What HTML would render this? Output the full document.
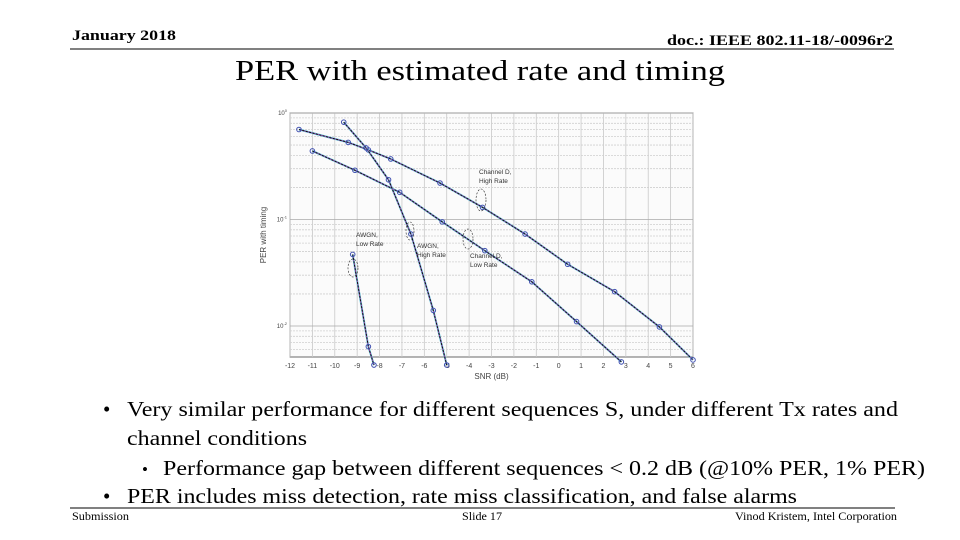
<!DOCTYPE html>
<html><head><meta charset="utf-8"><style>
html,body{margin:0;padding:0;background:#fff;}
svg{display:block;font-family:"Liberation Serif",serif;}
</style></head><body>
<svg id="slide" width="960" height="540" viewBox="0 0 960 540" xmlns="http://www.w3.org/2000/svg">
<text x="72" y="40" font-size="15" font-weight="bold" textLength="104" lengthAdjust="spacingAndGlyphs">January 2018</text>
<text x="667" y="45" font-size="15" font-weight="bold" textLength="226" lengthAdjust="spacingAndGlyphs">doc.: IEEE 802.11-18/-0096r2</text>
<line x1="70" y1="49" x2="894" y2="49" stroke="#000" stroke-width="1"/>
<text x="235" y="80" font-size="28" textLength="490" lengthAdjust="spacingAndGlyphs">PER with estimated rate and timing</text>
<g id="chart"></g>
<text x="103" y="416" font-size="21">•</text>
<text x="127" y="416" font-size="21" textLength="771" lengthAdjust="spacingAndGlyphs">Very similar performance for different sequences S, under different Tx rates and</text>
<text x="127" y="445" font-size="21" textLength="180" lengthAdjust="spacingAndGlyphs">channel conditions</text>
<text x="142" y="475" font-size="17">•</text>
<text x="163" y="475" font-size="21" textLength="762" lengthAdjust="spacingAndGlyphs">Performance gap between different sequences &lt; 0.2 dB (@10% PER, 1% PER)</text>
<text x="103" y="503" font-size="21">•</text>
<text x="127" y="503" font-size="21" textLength="670" lengthAdjust="spacingAndGlyphs">PER includes miss detection, rate miss classification, and false alarms</text>
<line x1="70" y1="508" x2="895" y2="508" stroke="#000" stroke-width="1"/>
<text x="72" y="520" font-size="12" textLength="57" lengthAdjust="spacingAndGlyphs">Submission</text>
<text x="462" y="520" font-size="12" textLength="40" lengthAdjust="spacingAndGlyphs">Slide 17</text>
<text x="735" y="520" font-size="12" textLength="162" lengthAdjust="spacingAndGlyphs">Vinod Kristem, Intel Corporation</text>
</svg>
<script>
const xTicks=[-12,-11,-10,-9,-8,-7,-6,-5,-4,-3,-2,-1,0,1,2,3,4,5,6];
const yDecades=[0,-1,-2];
const chDHighX=[-11.6,-9.4,-8.5,-7.5,-5.3,-3.4,-1.5,0.4,2.5,4.5,6];
const chDHighY=[0.70,0.53,0.45,0.37,0.22,0.13,0.073,0.038,0.021,0.0098,0.0048];
const chDLowX=[-11,-9.1,-7.1,-5.2,-3.3,-1.2,0.8,2.8];
const chDLowY=[0.44,0.29,0.18,0.095,0.051,0.026,0.011,0.0046];
const awgnHighX=[-9.6,-8.6,-7.6,-6.6,-5.6,-5];
const awgnHighY=[0.82,0.47,0.236,0.073,0.014,0.0043];
const awgnLowX=[-9.2,-8.5,-8.25];
const awgnLowY=[0.047,0.0064,0.0043];
const NS='http://www.w3.org/2000/svg';
const L=290,R=693,T=113,B=357,DEC=106.5;
const xs=v=>L+(v+12)*(R-L)/18;
const ys=v=>T-Math.log10(v)*DEC;
const g=document.getElementById('chart');
function mk(t,a,p){const e=document.createElementNS(NS,t);for(const k in a)e.setAttribute(k,a[k]);(p||g).appendChild(e);return e;}
let bg=mk('rect',{x:L,y:T,width:R-L,height:B-T,fill:'#fbfbfb',stroke:'#444','stroke-width':0.8});


const grid=mk('g',{});


xTicks.forEach(t=>{mk('line',{x1:xs(t),x2:xs(t),y1:T,y2:B,stroke:'#c8c8c8','stroke-width':0.8},grid);});
for(let d=0;d>=-3;d--){for(let m=1;m<10;m++){const v=m*Math.pow(10,d-1)*10;const y=ys(v);if(y<T-0.1||y>B)continue;mk('line',{x1:L,x2:R,y1:y,y2:y,stroke:m==1?'#aaa':'#d0d0d0','stroke-width':0.8,'stroke-dasharray':m==1?'':'2,1'},grid);}}
xTicks.forEach(t=>{const e=mk('text',{x:xs(t),y:B+11,'font-size':7,'text-anchor':'middle',fill:'#444','font-family':'Liberation Sans'});e.textContent=t;

});
yDecades.forEach(d=>{const e=mk('text',{x:L-3,y:ys(Math.pow(10,d))+2,'font-size':6,'text-anchor':'end',fill:'#444','font-family':'Liberation Sans'});e.innerHTML='10<tspan dy="-3" font-size="4">'+d+'</tspan>';

});
let xt=mk('text',{x:(L+R)/2,y:B+22,'font-size':8,'text-anchor':'middle',fill:'#444','font-family':'Liberation Sans'});xt.textContent='SNR (dB)';


let yt=mk('text',{x:0,y:0,'font-size':8,'text-anchor':'middle',fill:'#444','font-family':'Liberation Sans',transform:'translate(266,'+((T+B)/2)+') rotate(-90)'});yt.textContent='PER with timing';


function series(X,Y,name){
 const sg=mk('g',{});
 
 
 const pts=X.map((x,i)=>xs(x)+','+ys(Y[i])).join(' ');
 mk('polyline',{points:pts,fill:'none',stroke:'#5bc8e0','stroke-width':2},sg);
 mk('polyline',{points:pts,fill:'none',stroke:'#a040a0','stroke-width':1},sg);
 mk('polyline',{points:pts,fill:'none',stroke:'#111','stroke-width':1,'stroke-dasharray':'2,1.5'},sg);
 X.forEach((x,i)=>{const c=mk('circle',{cx:xs(x),cy:ys(Y[i]),r:2.3,fill:'none',stroke:'#4050b0','stroke-width':1},sg);
 
 });
}
series(chDHighX,chDHighY,'channel-d-high-rate-series');
series(chDLowX,chDLowY,'channel-d-low-rate-series');
series(awgnHighX,awgnHighY,'awgn-high-rate-series');
series(awgnLowX,awgnLowY,'awgn-low-rate-series');
const ann=[["Channel D,",479,174],["High Rate",479,183],["AWGN,",417,248],["High Rate",417,257],["Channel D,",470,258],["Low Rate",470,267],["AWGN,",356,237],["Low Rate",356,246]];
ann.forEach(a=>{const e=mk('text',{x:a[1],y:a[2],'font-size':6.5,fill:'#333','font-family':'Liberation Sans'});e.textContent=a[0];

});
[[481,200,5,11],[468,239,5,10],[410,231,4,9],[353,268,5,9]].forEach(o=>{const e=mk('ellipse',{cx:o[0],cy:o[1],rx:o[2],ry:o[3],fill:'none',stroke:'#222','stroke-width':0.6,'stroke-dasharray':'2,1.5'});

});
</script>
</body></html>
